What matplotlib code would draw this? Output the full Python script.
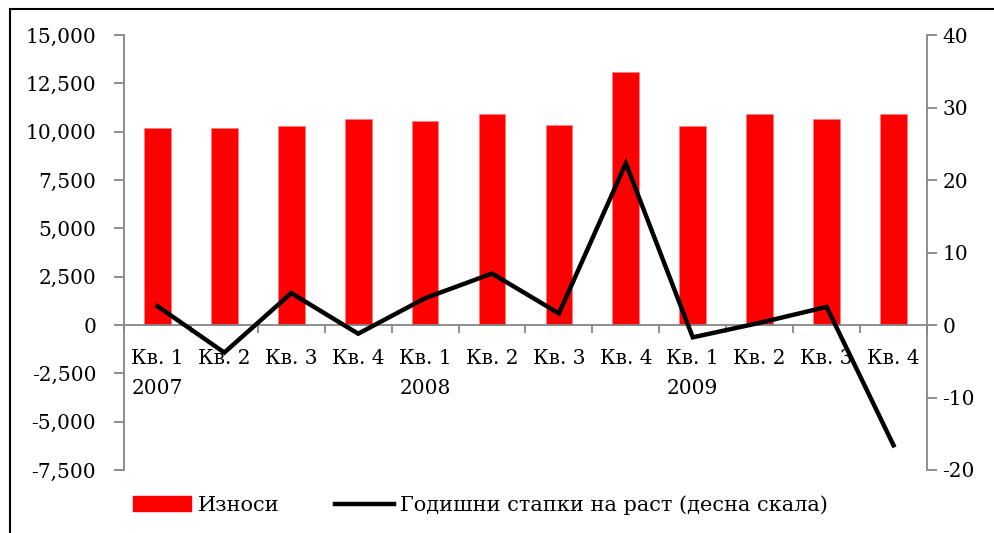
import numpy as np
import matplotlib.pyplot as plt
from matplotlib.patches import Rectangle
from matplotlib.lines import Line2D
from matplotlib.ticker import FuncFormatter

plt.rcParams['font.family'] = ['DejaVu Serif']

quarters = ["Кв. 1", "Кв. 2", "Кв. 3", "Кв. 4"] * 3
years = ["2007", "", "", "", "2008", "", "", "", "2009", "", "", ""]
iznosi = [10200, 10200, 10280, 10645, 10560, 10940, 10370, 13110, 10270, 10940, 10645, 10940]
stapki = [2.6, -3.8, 4.4, -1.2, 3.7, 7.1, 1.6, 22.3, -1.7, 0.3, 2.5, -16.6]

gray = "#868686"
fs = 14.5

fig = plt.figure(figsize=(9.94, 5.33), dpi=100)
ax = fig.add_axes([0.1247, 0.1182, 0.8079, 0.8161])
ax2 = ax.twinx()

x = np.arange(len(iznosi))
ax.bar(x, iznosi, width=0.4, color="#FF0000", edgecolor="#FF8080", linewidth=0.6, zorder=2)
ax2.plot(x, stapki, color="black", lw=3.2, solid_joinstyle="miter", zorder=3)

ax.set_xlim(-0.5, 11.5)
ax.set_ylim(-7500, 15000)
ax.set_yticks(np.arange(-7500, 15001, 2500))
ax.yaxis.set_major_formatter(FuncFormatter(lambda v, p: f"{v:,.0f}"))
ax2.set_ylim(-20, 40)
ax2.set_yticks(np.arange(-20, 41, 10))
ax2.yaxis.set_major_formatter(FuncFormatter(lambda v, p: f"{v:.0f}"))

for a in (ax, ax2):
    a.spines["top"].set_visible(False)
    for s in a.spines.values():
        s.set_color(gray)
        s.set_linewidth(1.3)
ax2.spines["bottom"].set_visible(False)
ax2.spines["left"].set_visible(False)
ax.spines["right"].set_visible(False)
ax.spines["bottom"].set_position(("data", 0))

# category boundary marks and centred labels
ax.set_xticks(np.arange(-0.5, 12, 1))
ax.set_xticklabels([])
ax.set_xticks(x, minor=True)
ax.set_xticklabels([f"{q}\n{y}" for q, y in zip(quarters, years)], minor=True)
ax.tick_params(axis="x", which="major", direction="out", length=6, width=1.3, color=gray)
ax.tick_params(axis="x", which="minor", length=0, pad=17, labelsize=fs)
for t in ax.get_xticklabels(minor=True):
    t.set_linespacing(1.75)

ax.tick_params(axis="y", direction="out", length=7, width=1.3, color=gray, pad=13, labelsize=fs)
ax2.tick_params(axis="y", direction="out", length=7, width=1.3, color=gray, pad=4, labelsize=fs)

handles = [Rectangle((0, 0), 1, 1, color="#FF0000"),
           Line2D([0], [0], color="black", lw=3.2)]
fig.legend(handles, ["Износи", "Годишни стапки на раст (десна скала)"],
           loc="center left", bbox_to_anchor=(133 / 994, 0.0525), ncol=2, frameon=False,
           borderpad=0, borderaxespad=0, prop={"size": 15},
           handlelength=2.8, handleheight=0.68, handletextpad=0.3,
           columnspacing=2.7)

# outer chart frame (partly cropped in the source picture)
fig.patches.append(Rectangle((10 / 994, -0.1), 1.2, 1 - 9 / 533 + 0.1,
                             transform=fig.transFigure, fill=False,
                             edgecolor="black", linewidth=1.5))

fig.savefig("out.png", dpi=100)
